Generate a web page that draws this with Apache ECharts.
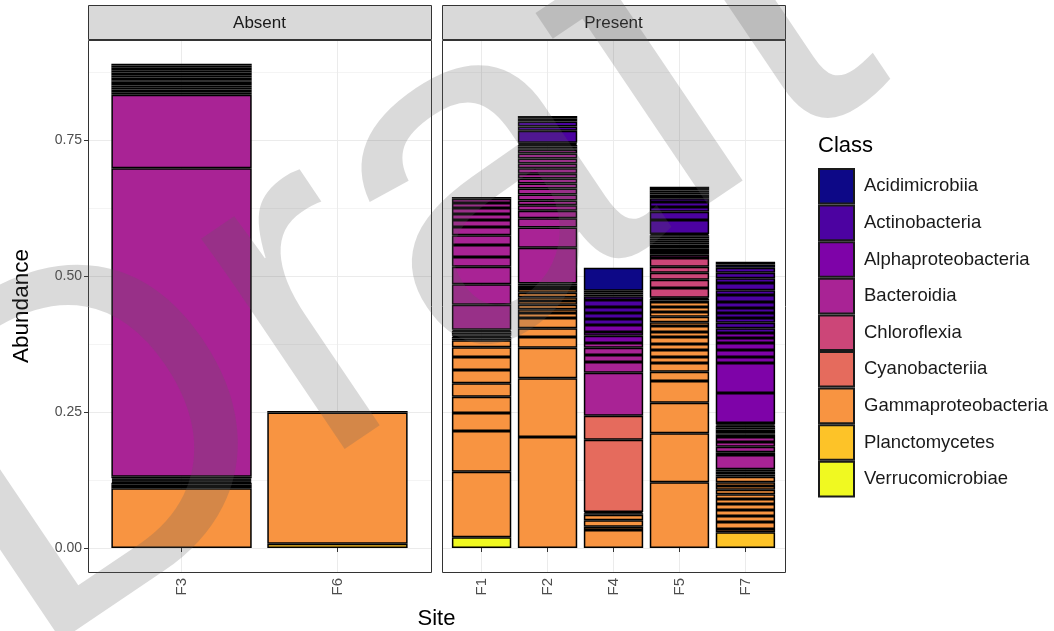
<!DOCTYPE html>
<html>
<head>
<meta charset="utf-8">
<script src="https://cdn.jsdelivr.net/npm/echarts@6/dist/echarts.min.js"></script>
<style>
  html, body { margin: 0; padding: 0; background: #ffffff; }
  #chart { width: 1054px; height: 631px; }
</style>
</head>
<body>
<div id="chart"></div>
<script>
// Taxonomic classes (stack order: first class sits on top of each bar)
const classes = ["Acidimicrobiia", "Actinobacteria", "Alphaproteobacteria", "Bacteroidia",
  "Chloroflexia", "Cyanobacteriia", "Gammaproteobacteria", "Planctomycetes", "Verrucomicrobiae"];
const classColors = ["#0D0887", "#4C02A1", "#7E03A8", "#A92395", "#CC4678",
  "#E56B5D", "#F89441", "#FDC328", "#F0F921"];

const absentSites = ["F3", "F6"];
const presentSites = ["F1", "F2", "F4", "F5", "F7"];
const yTicks = [0, 0.25, 0.5, 0.75];
const yMinorTicks = [0.125, 0.375, 0.625, 0.875];

// Per-site ASV abundances grouped by class, listed from the bottom of the bar upwards
const F3 = [
  ["Gammaproteobacteria", [0.110, 0.004, 0.003, 0.003, 0.002]],
  ["Chloroflexia", [0.002, 0.002]],
  ["Bacteroidia", [0.002, 0.003, 0.567, 0.135, 0.004, 0.003]],
  ["Alphaproteobacteria", [0.003, 0.003]],
  ["Actinobacteria", [0.004, 0.003, 0.004, 0.003]],
  ["Acidimicrobiia", [0.005, 0.004, 0.005, 0.004, 0.005, 0.004, 0.003]]
];
const F6 = [
  ["Planctomycetes", [0.008]],
  ["Gammaproteobacteria", [0.241, 0.003]]
];
const F1 = [
  ["Verrucomicrobiae", [0.020]],
  ["Gammaproteobacteria", [0.120, 0.075, 0.033, 0.030, 0.025, 0.024, 0.024, 0.018, 0.013, 0.003, 0.003, 0.002]],
  ["Cyanobacteriia", [0.003, 0.003]],
  ["Chloroflexia", [0.003, 0.002]],
  ["Bacteroidia", [0.046, 0.038, 0.032, 0.018, 0.022, 0.018, 0.015, 0.013, 0.011, 0.011, 0.009, 0.008]],
  ["Alphaproteobacteria", [0.003]]
];
const F2 = [
  ["Gammaproteobacteria", [0.204, 0.108, 0.056, 0.020, 0.016, 0.019, 0.009, 0.007, 0.008, 0.007, 0.007, 0.008, 0.007, 0.004, 0.003, 0.003]],
  ["Bacteroidia", [0.066, 0.037, 0.017, 0.014, 0.010, 0.009, 0.011, 0.011, 0.009, 0.009, 0.009, 0.010, 0.009, 0.009, 0.009, 0.007]],
  ["Alphaproteobacteria", [0.003, 0.003, 0.003, 0.002, 0.002]],
  ["Actinobacteria", [0.022, 0.008, 0.009]],
  ["Acidimicrobiia", [0.005, 0.005]]
];
const F4 = [
  ["Gammaproteobacteria", [0.033, 0.006, 0.012, 0.010, 0.003, 0.002]],
  ["Cyanobacteriia", [0.133, 0.044]],
  ["Bacteroidia", [0.079, 0.020, 0.013, 0.013, 0.009]],
  ["Alphaproteobacteria", [0.013, 0.007, 0.013]],
  ["Actinobacteria", [0.011, 0.011, 0.011, 0.013, 0.007, 0.003, 0.003]],
  ["Acidimicrobiia", [0.004, 0.042]]
];
const F5 = [
  ["Gammaproteobacteria", [0.121, 0.090, 0.056, 0.040, 0.017, 0.016, 0.011, 0.013, 0.011, 0.013, 0.009, 0.011, 0.007, 0.010, 0.009, 0.009, 0.009, 0.003, 0.003]],
  ["Chloroflexia", [0.002, 0.018, 0.015, 0.013, 0.011, 0.016]],
  ["Bacteroidia", [0.006, 0.005]],
  ["Alphaproteobacteria", [0.004, 0.003, 0.004, 0.003, 0.004, 0.003, 0.004, 0.003, 0.003, 0.002]],
  ["Actinobacteria", [0.026, 0.015, 0.009, 0.009, 0.007]],
  ["Acidimicrobiia", [0.004, 0.003, 0.003, 0.004, 0.003, 0.004]]
];
const F7 = [
  ["Planctomycetes", [0.029]],
  ["Gammaproteobacteria", [0.006, 0.013, 0.011, 0.011, 0.011, 0.009, 0.009, 0.008, 0.007, 0.007, 0.010, 0.004, 0.003]],
  ["Chloroflexia", [0.003]],
  ["Bacteroidia", [0.004, 0.026, 0.005, 0.010, 0.009, 0.009]],
  ["Alphaproteobacteria", [0.004, 0.003, 0.004, 0.003, 0.004, 0.003, 0.002, 0.003, 0.055, 0.055, 0.011, 0.013, 0.013, 0.009, 0.009]],
  ["Actinobacteria", [0.009, 0.010, 0.009, 0.009, 0.009, 0.011, 0.013, 0.009, 0.013, 0.009, 0.010, 0.009]],
  ["Acidimicrobiia", [0.006, 0.005]]
];
const siteTable = { F1, F2, F3, F4, F5, F6, F7 };

// ---- layout ----
const FONT = '"Liberation Sans", Arial, Helvetica, sans-serif';
const PANEL_TOP = 40, PANEL_H = 532, PANEL_W = 343;
const panelLeft = [88, 442];
const Y_MIN = -0.0441, Y_MAX = 0.9338;   // 5% expansion around [0, max]
const GRID_COLOR = "#ebebeb", MINOR_COLOR = "#f4f4f4", BORDER = "#333333";

function colorOf(cls) { return classColors[classes.indexOf(cls)]; }
function flatten(groups) {
  const out = [];
  groups.forEach(([cls, vals]) => vals.forEach(v => out.push({ cls, v })));
  return out;
}

// discrete axis expanded by 0.6 of a category on each side
function innerGrid(left, n) {
  const unit = PANEL_W / (n + 0.2);
  return { left: left + 0.1 * unit, top: PANEL_TOP, width: n * unit, height: PANEL_H };
}

function facetSeries(sites, stack, xi, yi) {
  const segs = sites.map(s => flatten(siteTable[s]));
  const maxN = Math.max(...segs.map(s => s.length));
  const out = [];
  for (let k = 0; k < maxN; k++) {
    out.push({
      type: "bar", stack, xAxisIndex: xi, yAxisIndex: yi, barWidth: "90%",
      silent: true, animation: false,
      itemStyle: { borderColor: "#000000", borderWidth: 1.5 },
      data: segs.map(s => s[k] ? { value: s[k].v, itemStyle: { color: colorOf(s[k].cls) } } : "-")
    });
  }
  return out;
}

// legend entries: empty series sharing the Absent stack, one per class
const legendSeries = classes.map((c, i) => ({
  type: "bar", name: c, stack: "absent", xAxisIndex: 2, yAxisIndex: 4, barWidth: "90%",
  data: [], animation: false,
  itemStyle: { color: classColors[i], borderColor: "#1a1a1a", borderWidth: 1 }
}));

function bgXAxis(gridIndex, n) {
  const centers = Array.from({ length: n }, (_, i) => i + 1);
  return {
    type: "value", gridIndex, min: 0.4, max: n + 0.6,
    axisLine: { show: false }, axisLabel: { show: false },
    axisTick: { show: false, customValues: centers },
    splitLine: { show: true, lineStyle: { color: GRID_COLOR, width: 1 } }
  };
}
function bgYAxis(gridIndex, values, color, withLabels) {
  return {
    type: "value", gridIndex, min: Y_MIN, max: Y_MAX, position: "left",
    axisLine: { show: false },
    axisTick: { show: withLabels, customValues: values, length: 4, lineStyle: { color: BORDER } },
    axisLabel: {
      show: withLabels, customValues: values, formatter: v => v.toFixed(2),
      color: "#4d4d4d", fontFamily: FONT, fontSize: 14, margin: 6
    },
    splitLine: { show: true, lineStyle: { color, width: 1 } }
  };
}
function catXAxis(gridIndex, sites) {
  return {
    type: "category", gridIndex, data: sites,
    axisLine: { show: false },
    axisTick: { show: true, alignWithLabel: true, length: 4, lineStyle: { color: BORDER } },
    axisLabel: { rotate: 90, color: "#4d4d4d", fontFamily: FONT, fontSize: 15, margin: 6 },
    splitLine: { show: false }
  };
}
function hiddenYAxis(gridIndex) {
  return { type: "value", gridIndex, min: Y_MIN, max: Y_MAX, show: false, splitLine: { show: false } };
}

const strips = [["Absent", panelLeft[0]], ["Present", panelLeft[1]]];
const graphics = [];
strips.forEach(([label, left]) => {
  graphics.push({
    type: "rect", z: 60, shape: { x: left + 0.5, y: 5.5, width: PANEL_W, height: 34 },
    style: { fill: "#d9d9d9", stroke: BORDER, lineWidth: 1 }
  });
  graphics.push({
    type: "text", z: 61, x: left + PANEL_W / 2, y: 23,
    style: { text: label, fill: "#1a1a1a", font: "17px " + FONT, align: "center", verticalAlign: "middle" }
  });
  graphics.push({
    type: "rect", z: 60, shape: { x: left + 0.5, y: PANEL_TOP + 0.5, width: PANEL_W, height: PANEL_H },
    style: { fill: "none", stroke: BORDER, lineWidth: 1 }
  });
});
graphics.push({
  type: "text", z: 61, x: 22, y: PANEL_TOP + PANEL_H / 2, rotation: Math.PI / 2,
  style: { text: "Abundance", fill: "#000000", font: "22.5px " + FONT, align: "center", verticalAlign: "middle" }
});
graphics.push({
  type: "text", z: 61, x: (panelLeft[0] + panelLeft[1] + PANEL_W) / 2, y: 619,
  style: { text: "Site", fill: "#000000", font: "22px " + FONT, align: "center", verticalAlign: "middle" }
});
graphics.push({
  type: "text", z: 61, x: 818, y: 146,
  style: { text: "Class", fill: "#000000", font: "22px " + FONT, align: "left", verticalAlign: "middle" }
});

// translucent grey "Draft" overlay: baseline starts below the lower-left corner and rises to the right
const WM_SIZE = 482, WM_ANGLE = 34 * Math.PI / 180, WM_BASE = [47, 690];
const WM_MID = 0.345 * WM_SIZE;   // em-box middle above the baseline
graphics.push({
  type: "text", z: 200, silent: true, rotation: WM_ANGLE,
  x: WM_BASE[0] - WM_MID * Math.sin(WM_ANGLE),
  y: WM_BASE[1] - WM_MID * Math.cos(WM_ANGLE),
  style: { text: "Draft", fill: "rgba(95,95,95,0.23)", font: WM_SIZE + "px " + FONT, align: "left", verticalAlign: "middle" }
});

const option = {
  animation: false,
  backgroundColor: "#ffffff",
  grid: [
    { left: panelLeft[0], top: PANEL_TOP, width: PANEL_W, height: PANEL_H },
    { left: panelLeft[1], top: PANEL_TOP, width: PANEL_W, height: PANEL_H },
    innerGrid(panelLeft[0], absentSites.length),
    innerGrid(panelLeft[1], presentSites.length)
  ],
  xAxis: [
    bgXAxis(0, absentSites.length),
    bgXAxis(1, presentSites.length),
    catXAxis(2, absentSites),
    catXAxis(3, presentSites)
  ],
  yAxis: [
    bgYAxis(0, yMinorTicks, MINOR_COLOR, false),   // minor grid, Absent
    bgYAxis(0, yTicks, GRID_COLOR, true),          // major grid + labels, Absent
    bgYAxis(1, yMinorTicks, MINOR_COLOR, false),   // minor grid, Present
    bgYAxis(1, yTicks, GRID_COLOR, false),         // major grid, Present
    hiddenYAxis(2),                                // bars, Absent
    hiddenYAxis(3)                                 // bars, Present
  ],
  legend: {
    orient: "vertical", left: 818, top: 168, padding: 0,
    itemWidth: 35, itemHeight: 34.6, itemGap: 0, icon: "rect", selectedMode: false,
    data: classes,
    textStyle: { fontFamily: FONT, fontSize: 18.5, color: "#1a1a1a", padding: [0, 0, 0, 5] }
  },
  graphic: { elements: graphics },
  series: [
    ...facetSeries(absentSites, "absent", 2, 4),
    ...legendSeries,
    ...facetSeries(presentSites, "present", 3, 5)
  ]
};

const chart = echarts.init(document.getElementById("chart"), null, { renderer: "canvas" });
chart.setOption(option);
</script>
</body>
</html>
